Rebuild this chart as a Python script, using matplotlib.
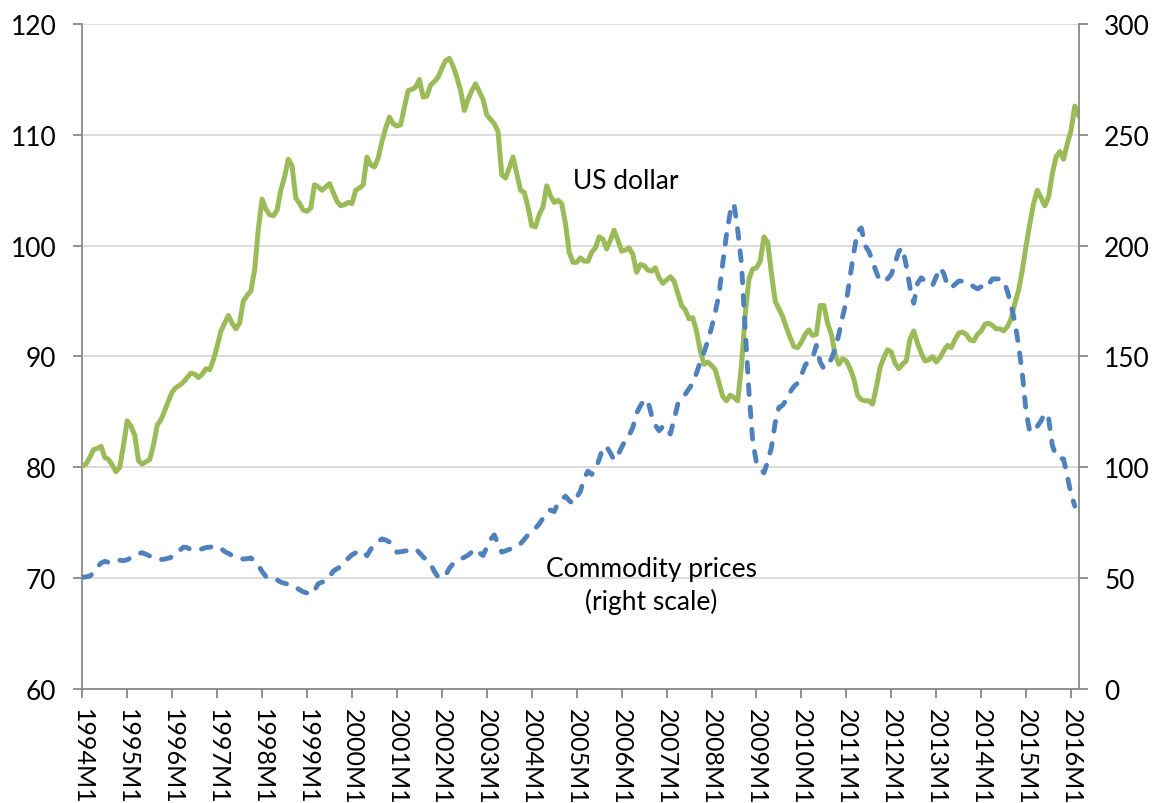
import numpy as np
import matplotlib
matplotlib.use("Agg")
import matplotlib.pyplot as plt

# ---- data -------------------------------------------------------------
years = list(range(1994, 2017))
months = [f"{y}M{m}" for y in range(1994, 2017) for m in range(1, 13)][:267]  # 1994M1 .. 2016M3
tick_labels = [f"{y}M1" for y in years]

# US dollar index (left scale), monthly
usd_index = [
    80.1, 80.3, 80.9, 81.6, 81.7, 81.9, 80.9, 80.7, 80.2, 79.6, 80.0, 82.0,          # 1994
    84.2, 83.7, 82.9, 80.6, 80.3, 80.5, 80.7, 82.0, 83.8, 84.3, 85.1, 86.0,          # 1995
    86.8, 87.2, 87.4, 87.7, 88.1, 88.5, 88.4, 88.1, 88.4, 88.9, 88.8, 89.7,          # 1996
    90.9, 92.3, 93.0, 93.7, 93.0, 92.5, 93.0, 95.0, 95.5, 95.9, 97.8, 101.5,         # 1997
    104.2, 103.3, 102.8, 102.7, 103.2, 105.0, 106.2, 107.8, 107.2, 104.3, 103.8, 103.2,  # 1998
    103.1, 103.4, 105.5, 105.3, 105.0, 105.3, 105.6, 104.8, 104.0, 103.6, 103.7, 103.9,  # 1999
    103.8, 105.0, 105.2, 105.5, 108.0, 107.3, 107.1, 107.9, 109.4, 110.6, 111.6, 111.0,  # 2000
    110.8, 110.9, 112.5, 114.0, 114.1, 114.3, 115.0, 113.4, 113.5, 114.5, 114.8, 115.2,  # 2001
    116.0, 116.7, 116.9, 116.2, 115.2, 114.0, 112.2, 113.2, 114.0, 114.6, 113.9, 113.2,  # 2002
    111.8, 111.4, 111.0, 110.3, 106.4, 106.1, 107.0, 108.0, 106.5, 105.0, 104.8, 103.5,  # 2003
    101.8, 101.7, 102.8, 103.5, 105.4, 104.5, 103.9, 104.1, 103.8, 102.0, 99.4, 98.5,    # 2004
    98.5, 98.9, 98.6, 98.6, 99.4, 99.8, 100.8, 100.6, 99.7, 100.5, 101.4, 100.5,         # 2005
    99.5, 99.6, 99.8, 99.2, 97.6, 98.3, 98.2, 97.8, 97.7, 98.0, 97.1, 96.6,              # 2006
    96.9, 97.2, 96.8, 95.7, 94.6, 94.2, 93.4, 93.5, 92.3, 90.5, 89.3, 89.5,              # 2007
    89.2, 88.8, 87.6, 86.4, 86.0, 86.5, 86.3, 86.0, 89.2, 93.8, 97.0, 97.9,              # 2008
    98.0, 98.6, 100.8, 100.3, 97.5, 95.0, 94.3, 93.6, 92.6, 91.7, 90.9, 90.8,            # 2009
    91.3, 92.0, 92.4, 91.9, 92.0, 94.6, 94.6, 93.0, 92.0, 90.2, 89.3, 89.8,              # 2010
    89.6, 88.9, 88.0, 86.5, 86.1, 86.0, 86.0, 85.7, 87.2, 89.0, 89.9, 90.6,              # 2011
    90.4, 89.4, 88.9, 89.3, 89.6, 91.6, 92.3, 91.2, 90.3, 89.6, 89.7, 90.0,              # 2012
    89.5, 89.9, 90.5, 91.0, 90.8, 91.5, 92.1, 92.2, 92.0, 91.5, 91.4, 92.0,              # 2013
    92.3, 92.9, 93.0, 92.8, 92.5, 92.5, 92.3, 92.7, 93.4, 94.8, 96.0, 97.8,              # 2014
    100.0, 102.0, 103.8, 105.0, 104.3, 103.6, 104.4, 106.5, 108.0, 108.5, 107.8, 109.2,  # 2015
    110.4, 112.6, 111.7,                                                                 # 2016
]

# Commodity price index (right scale), monthly
commodity_index = [
    50.4, 50.6, 50.9, 52.5, 55.0, 56.8, 57.6, 57.1, 57.0, 57.6, 58.1, 57.9,          # 1994
    58.3, 59.3, 60.0, 61.0, 61.5, 60.8, 60.0, 59.3, 58.7, 58.4, 58.6, 59.0,          # 1995
    59.6, 60.8, 62.5, 64.0, 63.8, 62.8, 62.8, 62.8, 63.2, 63.8, 64.0, 64.2,          # 1996
    64.3, 63.5, 62.0, 61.2, 60.2, 59.6, 59.0, 58.6, 58.8, 59.1, 57.8, 55.8,          # 1997
    53.0, 50.8, 50.3, 50.1, 49.2, 48.2, 47.7, 47.2, 46.9, 45.8, 44.8, 43.8,          # 1998
    43.3, 42.6, 44.5, 47.5, 48.2, 48.7, 50.5, 53.2, 54.2, 55.3, 57.0, 59.0,          # 1999
    60.5, 61.5, 62.3, 62.0, 60.1, 63.0, 65.0, 66.5, 67.7, 67.2, 66.3, 64.5,          # 2000
    61.7, 61.9, 62.2, 62.5, 62.8, 63.2, 61.5, 59.6, 58.0, 56.5, 53.0, 50.5,          # 2001
    50.2, 51.2, 54.5, 56.5, 57.9, 58.7, 59.4, 60.4, 61.8, 63.2, 61.5, 60.2,          # 2002
    64.0, 67.5, 69.5, 65.5, 61.7, 62.3, 63.0, 63.6, 64.3, 65.5, 67.5, 69.5,          # 2003
    71.0, 72.5, 74.5, 77.0, 79.8, 80.8, 80.0, 84.0, 85.5, 87.0, 85.0, 83.6,          # 2004
    86.5, 89.2, 95.0, 98.3, 96.8, 99.0, 103.5, 109.0, 109.3, 106.5, 103.2, 105.5,    # 2005
    109.0, 112.3, 114.5, 118.0, 124.5, 127.7, 130.5, 130.0, 123.5, 119.0, 116.5, 118.5,  # 2006
    118.5, 115.0, 121.5, 128.5, 131.2, 133.0, 135.5, 138.0, 142.5, 147.5, 152.0, 157.0,  # 2007
    163.0, 170.0, 178.0, 192.0, 205.0, 215.0, 219.0, 207.0, 192.0, 162.0, 134.0, 112.0,  # 2008
    102.0, 99.5, 97.5, 102.5, 109.0, 120.0, 127.0, 128.0, 130.5, 134.0, 136.5, 138.0,    # 2009
    141.5, 146.0, 148.3, 149.5, 155.0, 147.5, 144.5, 146.0, 149.0, 153.4, 160.0, 168.0,  # 2010
    175.0, 186.0, 197.0, 206.5, 208.0, 200.0, 197.5, 193.0, 188.0, 184.0, 184.5, 185.0,  # 2011
    187.0, 192.0, 197.5, 199.0, 191.0, 181.0, 174.0, 183.0, 185.5, 184.0, 182.7, 182.0,  # 2012
    186.0, 190.0, 187.5, 182.0, 181.0, 182.5, 184.0, 184.0, 183.0, 182.7, 181.5, 180.5,  # 2013
    181.5, 180.7, 182.5, 185.0, 185.0, 185.0, 184.0, 179.5, 173.0, 165.5, 155.0, 142.0,  # 2014
    125.0, 116.0, 118.0, 118.5, 121.0, 124.5, 122.2, 110.0, 105.0, 104.0, 103.8, 96.0,   # 2015
    88.0, 82.5,                                                                          # 2016
]

left_ticks = [60, 70, 80, 90, 100, 110, 120]
right_ticks = [0, 50, 100, 150, 200, 250, 300]

# ---- style ------------------------------------------------------------
GREEN = "#9BBB59"
BLUE = "#4F81BD"
GRID = "#D9D9D9"
AXIS = "#898989"
FONT = "Lato"
FS = 19

plt.rcParams["font.family"] = [FONT, "DejaVu Sans"]

fig = plt.figure(figsize=(11.56, 8.04), dpi=100)
ax = fig.add_axes([0.0712, 0.1418, 0.8618, 0.8271])
ax2 = ax.twinx()

x_usd = np.arange(len(usd_index))
x_com = np.arange(len(commodity_index))

ax.plot(x_usd, usd_index, color=GREEN, lw=3.6, solid_joinstyle="round",
        solid_capstyle="round", zorder=3)
ax2.plot(x_com, commodity_index, color=BLUE, lw=3.5, linestyle=(0, (2.0, 2.6)),
         dash_capstyle="round", dash_joinstyle="round", zorder=3)

ax.set_xlim(0, len(months) - 1)
ax.set_ylim(60, 120)
ax2.set_ylim(0, 300)

ax.set_yticks(left_ticks)
ax2.set_yticks(right_ticks)
ax.set_xticks(np.arange(0, len(months), 12))
ax.set_xticklabels(tick_labels, rotation=-90)

ax.yaxis.grid(True, color=GRID, lw=1.3)
ax.set_axisbelow(True)

for a in (ax, ax2):
    a.spines["top"].set_visible(False)
    for s in ("left", "right", "bottom"):
        a.spines[s].set_color(AXIS)
        a.spines[s].set_linewidth(1.3)
ax2.spines["left"].set_visible(False)
ax2.spines["bottom"].set_visible(False)
ax.spines["right"].set_visible(False)

ax.tick_params(axis="y", length=6.5, width=1.3, color=AXIS, labelsize=FS, pad=12)
ax2.tick_params(axis="y", length=6.5, width=1.3, color=AXIS, labelsize=FS, pad=12)
ax.tick_params(axis="x", length=6.5, width=1.3, color=AXIS, labelsize=18, pad=7)

ax.text(145.2, 105.9, "US dollar", fontsize=FS, ha="center", va="center")
ax.text(152.0, 69.4, "Commodity prices\n(right scale)", fontsize=FS,
        ha="center", va="center", multialignment="center", linespacing=1.3)

fig.savefig("out.png", dpi=100)
